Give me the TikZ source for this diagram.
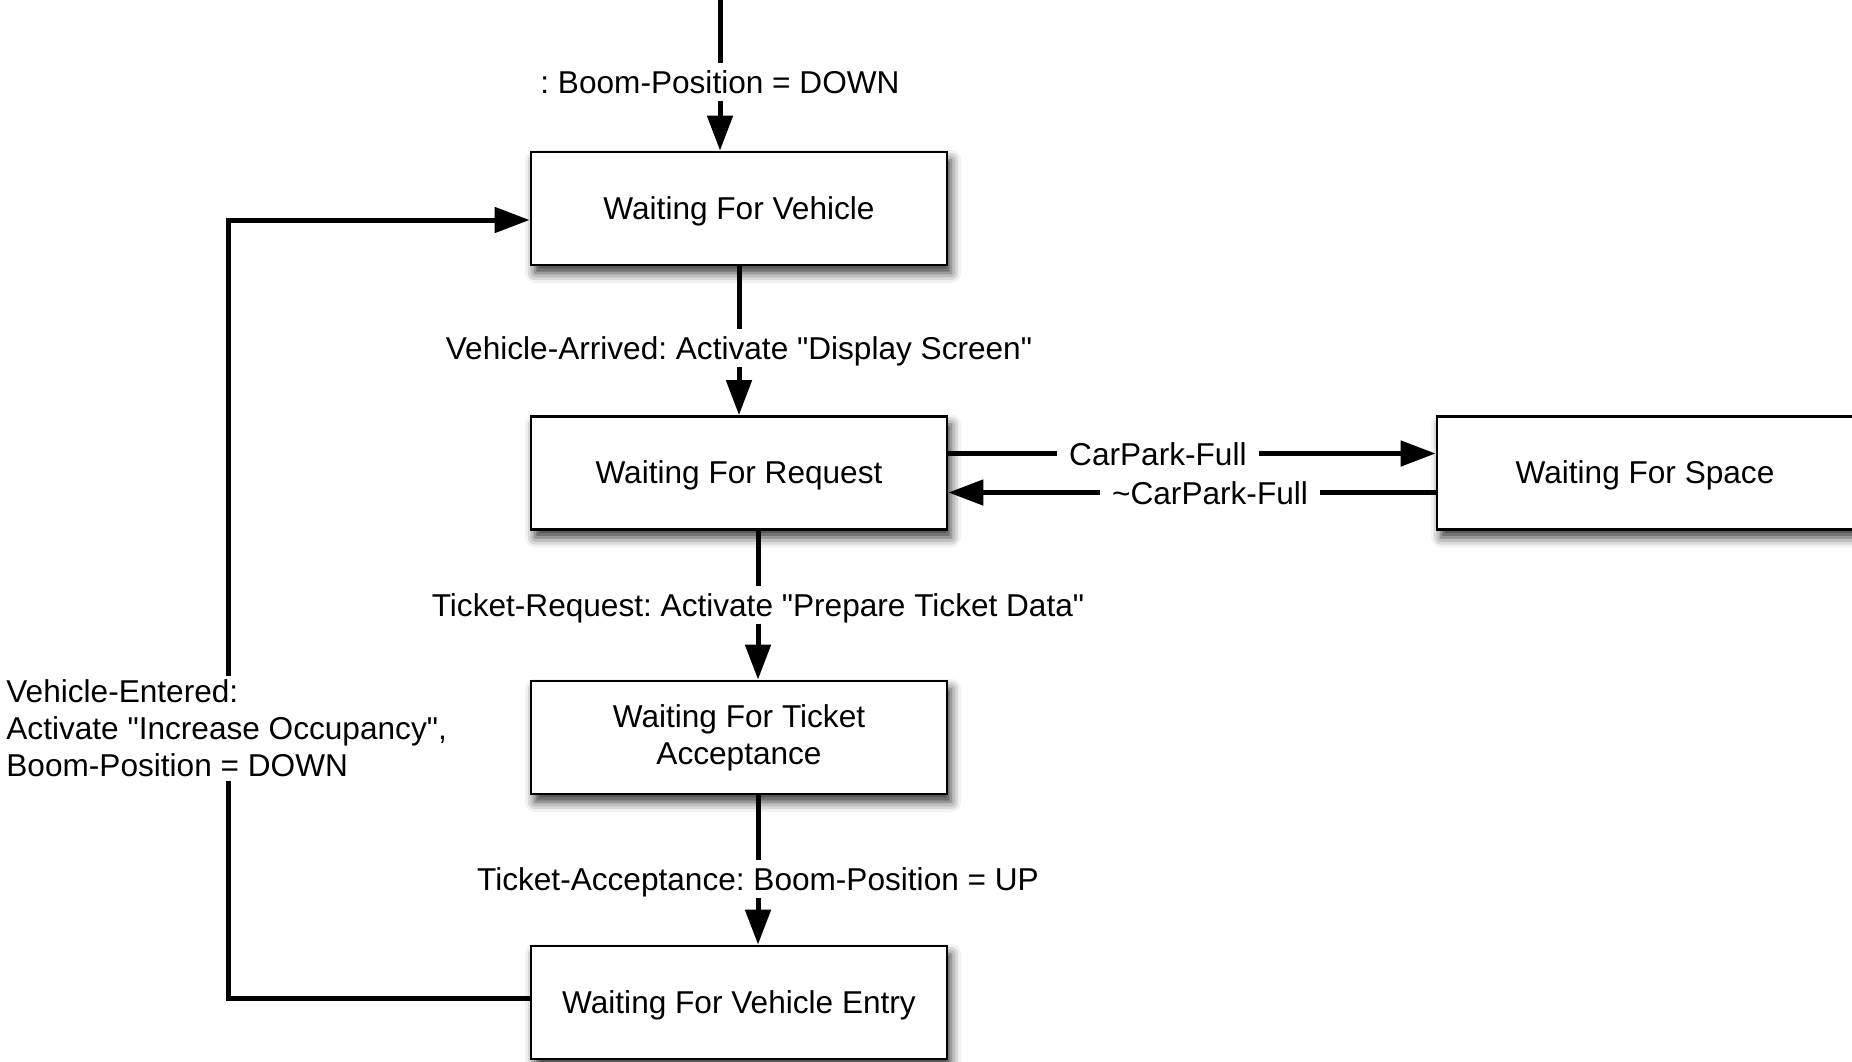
\documentclass[tikz,border=0pt]{standalone}
\usepackage{fontspec}
\setmainfont{Liberation Sans}[Ligatures=TeXOff]
\usetikzlibrary{arrows.meta,shadows.blur}
\begin{document}
\frenchspacing
\begin{tikzpicture}[x=0.5pt,y=-0.5pt,
  every node/.style={font=\fontsize{15.8pt}{18.5pt}\selectfont},
  state/.style={draw=black, line width=1.4pt, fill=white, minimum width=208pt, minimum height=56.5pt, align=center, inner sep=2pt,
    execute at begin node={\rule{0pt}{14pt}},
    blur shadow={shadow xshift=2pt, shadow yshift=-4pt, shadow blur radius=5pt, shadow opacity=80}},
  conn/.style={line width=2.5pt, -{Triangle[length=17.5pt,width=12.5pt]}},
  lbl/.style={fill=white, inner xsep=6pt, inner ysep=2pt, text height=13.25pt, text depth=1.75pt}
]
\useasboundingbox (0,0) rectangle (1852,1061);

\node[state] (b1) at (739,208.5) {Waiting For Vehicle};
\node[state] (b2) at (739,473) {Waiting For Request};
\node[state] (b3) at (739,737.5) {Waiting For Ticket\\Acceptance};
\node[state] (b4) at (739,1002.5) {Waiting For Vehicle Entry};
\node[state] (bs) at (1645,473) {Waiting For Space};

\coordinate (start) at (720,0);
\draw[conn] (start) -- node[lbl,pos=0.546] (l0) {: Boom-Position = DOWN} ([xshift=-9.5pt]b1.north);
\draw[conn] (b1.south) -- node[lbl,pos=0.546] (l1) {Vehicle-Arrived: Activate "Display Screen"} (b2.north);
\draw[conn] ([xshift=9.5pt]b2.south) -- node[lbl,pos=0.5] (l2) {Ticket-Request: Activate "Prepare Ticket Data"} ([xshift=9.5pt]b3.north);
\draw[conn] ([xshift=9.5pt]b3.south) -- node[lbl,pos=0.559] (l3) {Ticket-Acceptance: Boom-Position = UP} ([xshift=9.5pt]b4.north);

\draw[conn] ([yshift=9.75pt]b2.east) -- node[lbl,pos=0.43] (l4) {CarPark-Full} ([yshift=9.75pt]bs.west);
\draw[conn] ([yshift=-9.75pt]bs.west) -- node[lbl,pos=0.463] (l5) {\textasciitilde CarPark-Full} ([yshift=-9.75pt]b2.east);

\coordinate (lp) at (228,600);
\draw[conn] ([yshift=2.25pt]b4.west) -| (lp) |- ([yshift=-5.75pt]b1.west);
\node[fill=white, align=left, anchor=west, inner xsep=1pt, inner ysep=2pt] (l6) at (4,728.5)
  {Vehicle-Entered:\\Activate "Increase Occupancy",\\Boom-Position = DOWN};
\end{tikzpicture}
\end{document}
